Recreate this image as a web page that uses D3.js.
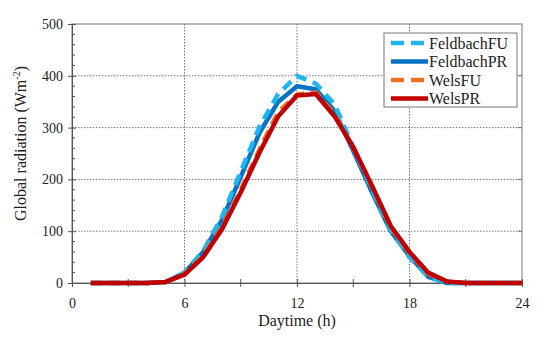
<!DOCTYPE html>
<html>
<head>
<meta charset="utf-8">
<script src="https://cdn.jsdelivr.net/npm/d3@7"></script>
<style>
  body { margin: 0; background: #fff; }
  text { font-family: "Liberation Serif", serif; fill: #222; }
</style>
</head>
<body>
<div class="lineChart"></div>
<script>
const hours = d3.range(1, 25);
const feldbachFU = [0, 0, 0, 0, 2, 20, 62, 128, 215, 302, 365, 400, 385, 345, 262, 180, 102, 50, 12, 0, 0, 0, 0, 0];
const feldbachPR = [0, 0, 0, 0, 2, 20, 60, 122, 205, 290, 350, 380, 374, 332, 255, 175, 100, 52, 12, 0, 0, 0, 0, 0];
const welsFU = [0, 0, 0, 0, 2, 17, 52, 108, 180, 258, 330, 364, 368, 325, 262, 186, 108, 58, 18, 3, 0, 0, 0, 0];
const welsPR = [0, 0, 0, 0, 2, 16, 50, 104, 175, 252, 322, 362, 365, 322, 262, 188, 110, 60, 20, 3, 0, 0, 0, 0];
const xTicks = [0, 6, 12, 18, 24];
const yTicks = [0, 100, 200, 300, 400, 500];

const series = [
  { name: "FeldbachPR", values: feldbachPR, color: "#0a72c4", dash: null },
  { name: "FeldbachFU", values: feldbachFU, color: "#1fb6ee", dash: "11,7" },
  { name: "WelsFU", values: welsFU, color: "#f07020", dash: "11,7" },
  { name: "WelsPR", values: welsPR, color: "#c00000", dash: null }
];
const legendOrder = ["FeldbachFU", "FeldbachPR", "WelsFU", "WelsPR"];

const margin = { top: 24, right: 28, bottom: 61, left: 72 },
  width = 550 - margin.left - margin.right,
  height = 344 - margin.top - margin.bottom;

const svg = d3.select(".lineChart").append("svg")
  .attr("width", 550)
  .attr("height", 344)
  .append("g")
  .attr("transform", "translate(" + margin.left + "," + margin.top + ")");

const x = d3.scaleLinear().domain([0, 24]).range([0, width]);
const y = d3.scaleLinear().domain([0, 500]).range([height, 0]);

// grid
svg.append("g").selectAll("line")
  .data(xTicks.slice(1, -1)).enter().append("line")
  .attr("x1", d => x(d)).attr("x2", d => x(d))
  .attr("y1", 0).attr("y2", height)
  .attr("stroke", "#555").attr("stroke-width", 0.8).attr("stroke-dasharray", "1.5,1.5");
svg.append("g").selectAll("line")
  .data(yTicks.slice(1, -1)).enter().append("line")
  .attr("x1", 0).attr("x2", width)
  .attr("y1", d => y(d)).attr("y2", d => y(d))
  .attr("stroke", "#555").attr("stroke-width", 0.8).attr("stroke-dasharray", "1.5,1.5");

// frame
svg.append("rect")
  .attr("width", width).attr("height", height)
  .attr("fill", "none").attr("stroke", "#777").attr("stroke-width", 1);

// minor ticks
svg.append("g").selectAll("line")
  .data(d3.range(20, 500, 20).filter(v => v % 100 !== 0)).enter().append("line")
  .attr("x1", 0).attr("x2", 3)
  .attr("y1", d => y(d)).attr("y2", d => y(d))
  .attr("stroke", "#555");
svg.append("g").selectAll("line")
  .data([3, 9, 15, 21]).enter().append("line")
  .attr("x1", d => x(d)).attr("x2", d => x(d))
  .attr("y1", height - 4).attr("y2", height + 4)
  .attr("stroke", "#555");
// right side inward ticks
svg.append("g").selectAll("line")
  .data(yTicks.slice(1, -1)).enter().append("line")
  .attr("x1", width - 4).attr("x2", width)
  .attr("y1", d => y(d)).attr("y2", d => y(d))
  .attr("stroke", "#777");

// axes
const xAxis = svg.append("g")
  .attr("transform", "translate(0," + height + ")")
  .call(d3.axisBottom(x).tickValues(xTicks).tickSize(4).tickSizeOuter(0));
const yAxis = svg.append("g")
  .call(d3.axisLeft(y).tickValues(yTicks).tickSize(4).tickSizeOuter(0));
[xAxis, yAxis].forEach(a => {
  a.select(".domain").attr("stroke", "#555");
  a.selectAll(".tick line").attr("stroke", "#555");
  a.selectAll("text").style("font-family", "Liberation Serif, serif").style("font-size", "14px").attr("fill", "#333");
});
xAxis.selectAll(".tick line").attr("y1", -4);
yAxis.selectAll(".tick line").attr("x2", 4).attr("x1", -4);
xAxis.selectAll("text").attr("dy", "1.3em");
yAxis.selectAll("text").attr("x", -9);

// lines
const line = d3.line()
  .x((d, i) => x(hours[i]))
  .y(d => y(d));
svg.append("g").selectAll("path")
  .data(series).enter().append("path")
  .attr("d", d => line(d.values))
  .attr("fill", "none")
  .attr("stroke", d => d.color)
  .attr("stroke-width", 4.5)
  .attr("stroke-linejoin", "round")
  .attr("stroke-dasharray", d => d.dash);

// axis titles
svg.append("text")
  .attr("x", width / 2).attr("y", height + 43)
  .attr("text-anchor", "middle")
  .style("font-size", "16px")
  .text("Daytime (h)");
const yt = svg.append("text")
  .attr("transform", "translate(-46," + (height / 2 - 10) + ") rotate(-90)")
  .attr("text-anchor", "middle")
  .style("font-size", "16px");
yt.append("tspan").text("Global radiation (Wm");
yt.append("tspan").attr("dy", -6).style("font-size", "10px").text("-2");
yt.append("tspan").attr("dy", 6).text(")");

// legend
const lg = svg.append("g").attr("transform", "translate(" + (384 - margin.left) + "," + (33 - margin.top) + ")");
lg.append("rect").attr("width", 133).attr("height", 74)
  .attr("fill", "#fff").attr("stroke", "#777").attr("stroke-width", 1);
legendOrder.forEach((n, i) => {
  const s = series.find(d => d.name === n);
  const g = lg.append("g").attr("transform", "translate(0," + (10 + i * 18.5) + ")");
  g.append("line").attr("x1", 7).attr("x2", 44)
    .attr("stroke", s.color).attr("stroke-width", 4.5)
    .attr("stroke-dasharray", s.dash ? "13,7" : null);
  g.append("text").attr("x", 45).attr("y", 5.5)
    .style("font-size", "16px")
    .text(n);
});
</script>
</body>
</html>
